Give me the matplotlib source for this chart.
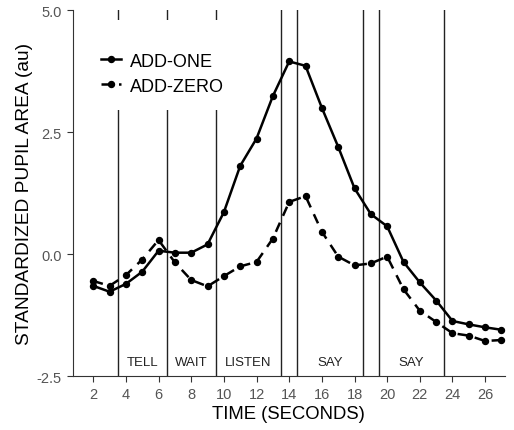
import numpy as np
import matplotlib
matplotlib.use("Agg")
import matplotlib.pyplot as plt
from matplotlib.patches import Rectangle

plt.rcParams['font.family'] = ['Liberation Sans', 'DejaVu Sans']

# data
time_s = list(range(2, 28))
add_one = [-0.65, -0.77, -0.61, -0.36, 0.07, 0.03, 0.03, 0.20, 0.86, 1.81,
           2.37, 3.24, 3.95, 3.86, 3.00, 2.20, 1.35, 0.82, 0.57, -0.16,
           -0.58, -0.95, -1.37, -1.44, -1.50, -1.55]
add_zero = [-0.55, -0.65, -0.43, -0.11, 0.29, -0.17, -0.53, -0.66, -0.45, -0.25,
            -0.16, 0.32, 1.07, 1.19, 0.46, -0.05, -0.23, -0.19, -0.05, -0.72,
            -1.16, -1.39, -1.62, -1.67, -1.78, -1.76]

phase_bounds = [3.5, 6.5, 9.5, 13.5, 14.5, 18.5, 19.5, 23.5]
phase_labels = ['TELL', 'WAIT', 'LISTEN', 'SAY', 'SAY']
phase_centers = [5, 8, 11.5, 16.5, 21.5]

fig = plt.figure(figsize=(5.14, 4.31), dpi=100)
ax = fig.add_axes([0.142, 0.125, 0.840, 0.849])

for b in phase_bounds:
    ax.axvline(b, color='#222222', lw=1, zorder=1)

# white box behind the legend, hides the phase lines there
ax.add_patch(Rectangle((0.05, 0.727), 0.34, 0.246, transform=ax.transAxes,
                       facecolor='white', edgecolor='none', zorder=2))

ax.plot(time_s, add_one, color='black', lw=1.8, marker='o', ms=4.3,
        label='ADD-ONE', zorder=4)
ax.plot(time_s, add_zero, color='black', lw=1.8, marker='o', ms=4.3,
        dashes=(4, 3), label='ADD-ZERO', zorder=4)

for lab, xc in zip(phase_labels, phase_centers):
    ax.text(xc, -2.21, lab, ha='center', va='center', fontsize=9.5, color='#222222')

ax.set_xlim(0.76, 27.2)
ax.set_ylim(-2.5, 5.0)
ax.set_xticks(range(2, 27, 2))
ax.set_yticks([-2.5, 0.0, 2.5, 5.0])
ax.set_yticklabels(['-2.5', '0.0', '2.5', '5.0'])
ax.tick_params(colors='#333333', labelcolor='#555555', labelsize=10.5, length=4.5)

for s in ['top', 'right']:
    ax.spines[s].set_visible(False)
for s in ['left', 'bottom']:
    ax.spines[s].set_color('#333333')

ax.set_xlabel('TIME (SECONDS)', fontsize=13.3, labelpad=3)
ax.set_ylabel('STANDARDIZED PUPIL AREA (au)', fontsize=13.8, labelpad=3)

ax.legend(loc='upper left', bbox_to_anchor=(0.066, 0.884), frameon=False,
          borderpad=0, borderaxespad=0,
          fontsize=13, handlelength=1.1, handletextpad=0.45, labelspacing=0.45)

fig.savefig('out.png', dpi=100)
